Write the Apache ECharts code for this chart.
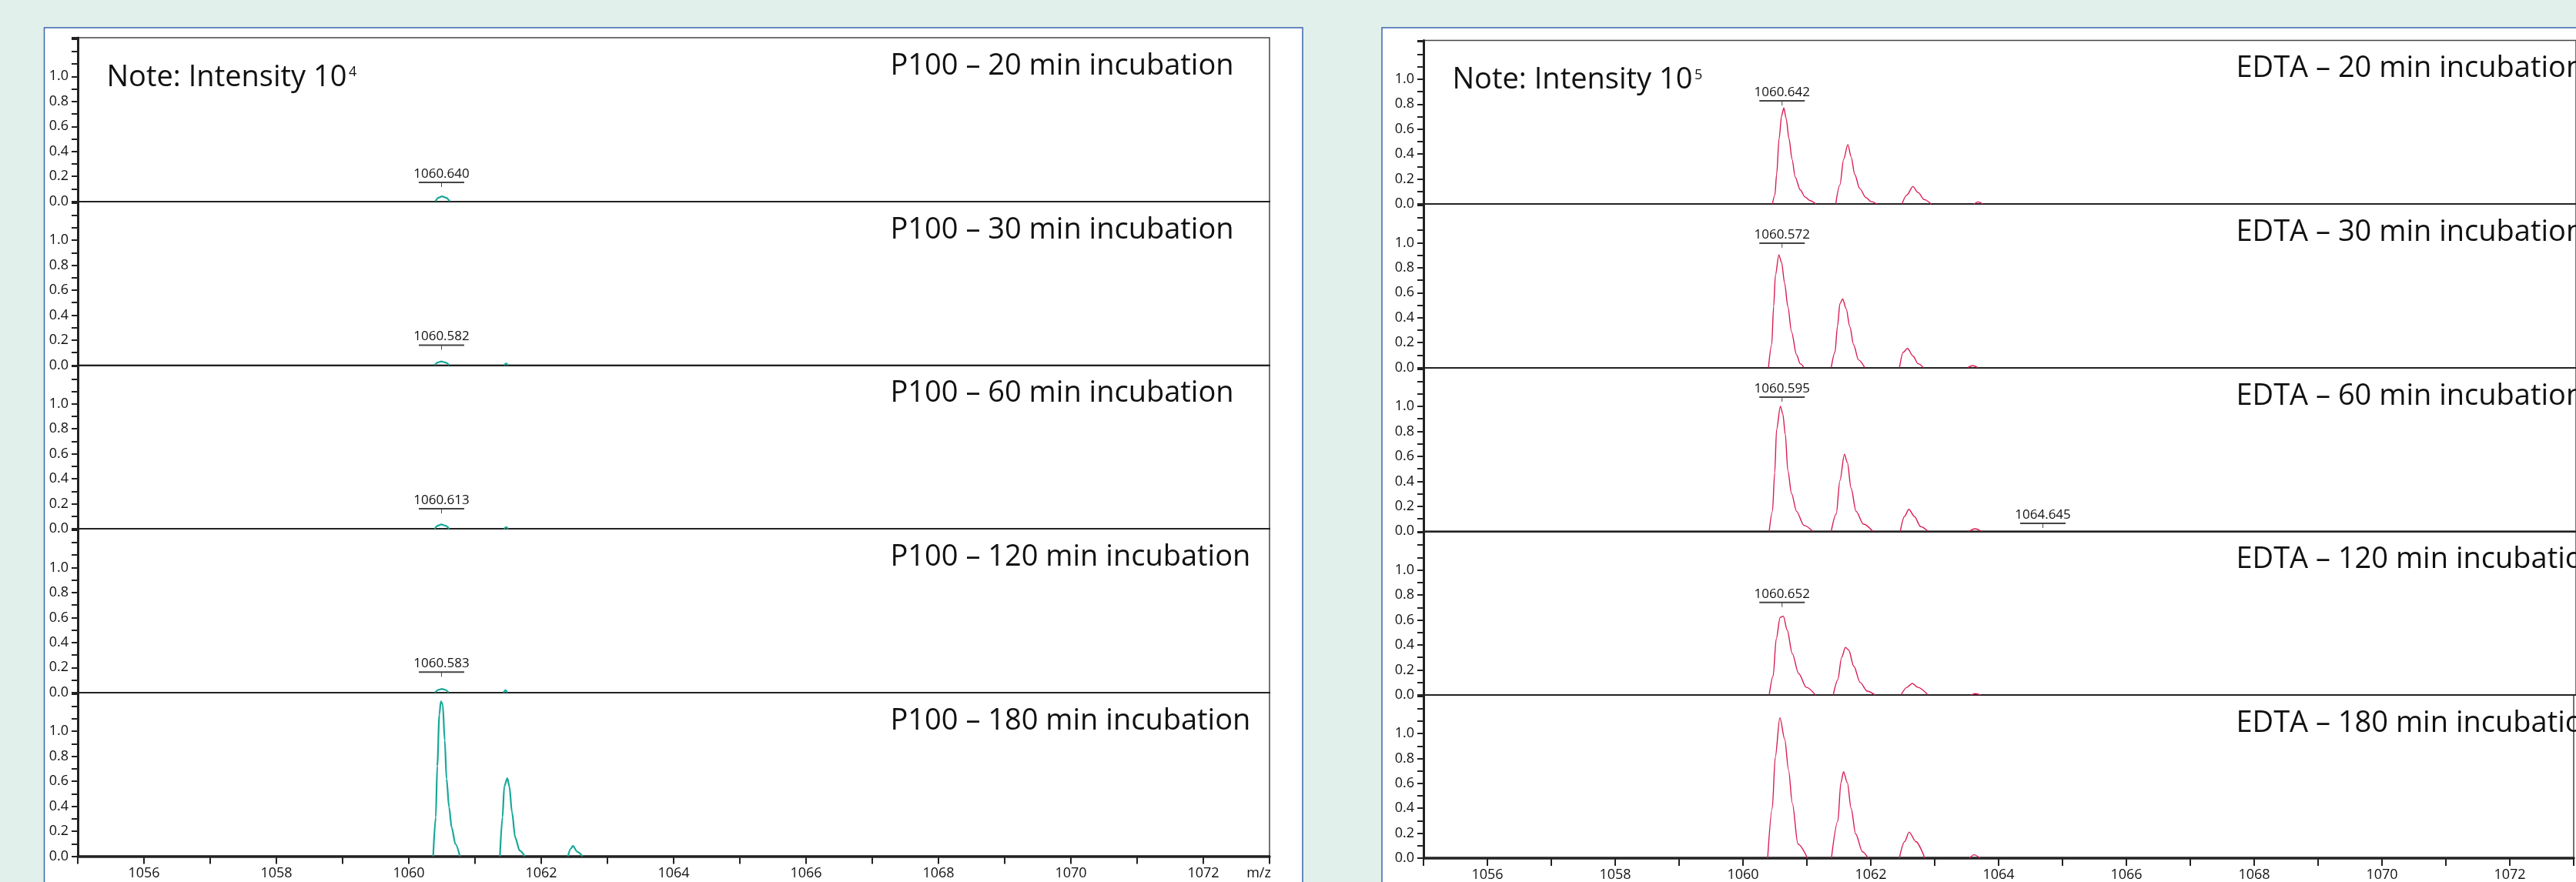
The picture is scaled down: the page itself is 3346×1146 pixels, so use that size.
<!DOCTYPE html>
<html>
<head>
<meta charset="utf-8">
<script src="https://cdn.jsdelivr.net/npm/echarts@6/dist/echarts.min.js"></script>
<style>
html,body{margin:0;padding:0;background:#e1f0eb;}
#c{width:3346px;height:1146px;}
</style>
</head>
<body>
<div id="c"></div>
<script>
// ---------------- DATA ----------------
const xTickLabels = ['1056','1058','1060','1062','1064','1066','1068','1070','1072'];
const yTickLabels = ['0.0','0.2','0.4','0.6','0.8','1.0'];
const leftTitles = ['P100 \u2013 20 min incubation','P100 \u2013 30 min incubation','P100 \u2013 60 min incubation','P100 \u2013 120 min incubation','P100 \u2013 180 min incubation'];
const rightTitles = ['EDTA \u2013 20 min incubation','EDTA \u2013 30 min incubation','EDTA \u2013 60 min incubation','EDTA \u2013 120 min incubation','EDTA \u2013 180 min incubation'];
const leftNote = ['Note: Intensity 10','4'];
const rightNote = ['Note: Intensity 10','5'];

// each spectrum = list of peaks, each peak = list of [m/z, relative intensity]
const p100_20 = [
  [[1060.40,0],[1060.45,0.03],[1060.50,0.04],[1060.56,0.03],[1060.62,0]]
];
const p100_30 = [
  [[1060.39,0],[1060.44,0.022],[1060.49,0.03],[1060.55,0.022],[1060.61,0]],
  [[1061.44,0],[1061.47,0.012],[1061.50,0]]
];
const p100_60 = [
  [[1060.39,0],[1060.44,0.026],[1060.49,0.035],[1060.55,0.026],[1060.61,0]],
  [[1061.44,0],[1061.47,0.014],[1061.50,0]]
];
const p100_120 = [
  [[1060.395,0],[1060.45,0.022],[1060.50,0.029],[1060.55,0.022],[1060.60,0]],
  [[1061.43,0],[1061.46,0.018],[1061.49,0]]
];
const p100_180 = [
  [[1060.368,0],[1060.407,0.312],[1060.430,0.722],[1060.461,1.132],[1060.484,1.239],[1060.512,1.215],[1060.543,0.927],[1060.570,0.62],[1060.608,0.394],[1060.647,0.23],[1060.705,0.097],[1060.771,0]],
  [[1061.376,0],[1061.415,0.312],[1061.442,0.558],[1061.488,0.624],[1061.519,0.558],[1061.558,0.353],[1061.608,0.148],[1061.674,0.045],[1061.752,0]],
  [[1062.403,0],[1062.45,0.062],[1062.477,0.082],[1062.547,0.035],[1062.624,0]]
];
const edta_20 = [
  [[1060.450,0],[1060.488,0.072],[1060.515,0.236],[1060.554,0.523],[1060.593,0.708],[1060.628,0.769],[1060.663,0.687],[1060.709,0.523],[1060.756,0.359],[1060.806,0.215],[1060.884,0.113],[1060.961,0.055],[1061.039,0.027],[1061.128,0]],
  [[1061.438,0],[1061.504,0.154],[1061.562,0.359],[1061.628,0.476],[1061.678,0.379],[1061.736,0.236],[1061.814,0.123],[1061.911,0.051],[1061.988,0.02],[1062.085,0]],
  [[1062.473,0],[1062.55,0.072],[1062.643,0.14],[1062.725,0.092],[1062.822,0.035],[1062.926,0]],
  [[1063.597,0],[1063.663,0.017],[1063.733,0]]
];
const edta_30 = [
  [[1060.388,0],[1060.438,0.185],[1060.469,0.492],[1060.496,0.738],[1060.550,0.903],[1060.593,0.841],[1060.640,0.677],[1060.690,0.492],[1060.748,0.287],[1060.826,0.103],[1060.884,0.031],[1060.942,0]],
  [[1061.368,0],[1061.426,0.123],[1061.465,0.328],[1061.504,0.513],[1061.547,0.55],[1061.601,0.472],[1061.659,0.328],[1061.717,0.185],[1061.794,0.062],[1061.891,0]],
  [[1062.434,0],[1062.492,0.123],[1062.558,0.154],[1062.647,0.092],[1062.725,0.031],[1062.810,0]],
  [[1063.50,0],[1063.578,0.017],[1063.655,0]]
];
const edta_60 = [
  [[1060.399,0],[1060.450,0.16],[1060.485,0.468],[1060.515,0.816],[1060.574,1.001],[1060.612,0.939],[1060.651,0.775],[1060.690,0.488],[1060.748,0.303],[1060.826,0.16],[1060.942,0.047],[1061.078,0]],
  [[1061.368,0],[1061.446,0.139],[1061.504,0.406],[1061.574,0.617],[1061.620,0.55],[1061.678,0.345],[1061.756,0.16],[1061.872,0.057],[1062.015,0]],
  [[1062.446,0],[1062.512,0.119],[1062.581,0.176],[1062.667,0.119],[1062.764,0.037],[1062.880,0]],
  [[1063.519,0],[1063.616,0.02],[1063.713,0]]
];
const edta_120 = [
  [[1060.40,0],[1060.46,0.15],[1060.51,0.45],[1060.57,0.62],[1060.62,0.63],[1060.68,0.52],[1060.76,0.33],[1060.86,0.17],[1060.98,0.06],[1061.12,0]],
  [[1061.40,0],[1061.47,0.12],[1061.53,0.30],[1061.59,0.38],[1061.64,0.36],[1061.72,0.23],[1061.82,0.10],[1061.93,0.03],[1062.05,0]],
  [[1062.46,0],[1062.55,0.06],[1062.635,0.092],[1062.72,0.06],[1062.88,0]],
  [[1063.55,0],[1063.62,0.01],[1063.70,0]]
];
const edta_180 = [
  [[1060.386,0],[1060.458,0.4],[1060.505,0.81],[1060.577,1.128],[1060.653,0.954],[1060.713,0.708],[1060.772,0.441],[1060.860,0.113],[1061.009,0]],
  [[1061.384,0],[1061.484,0.297],[1061.532,0.605],[1061.573,0.693],[1061.633,0.605],[1061.692,0.4],[1061.763,0.195],[1061.870,0.051],[1061.958,0]],
  [[1062.446,0],[1062.530,0.133],[1062.600,0.209],[1062.705,0.133],[1062.845,0]],
  [[1063.547,0],[1063.616,0.027],[1063.709,0]]
];
const leftSpectra = [p100_20, p100_30, p100_60, p100_120, p100_180];
const rightSpectra = [edta_20, edta_30, edta_60, edta_120, edta_180];

// peak annotations
const leftAnnotPanel = [0, 1, 2, 3];
const leftAnnotMz = [1060.494, 1060.494, 1060.494, 1060.494];
const leftAnnotY = [0.152, 0.160, 0.160, 0.163];
const leftAnnotText = ['1060.640', '1060.582', '1060.613', '1060.583'];
const rightAnnotPanel = [0, 1, 2, 2, 3];
const rightAnnotMz = [1060.60, 1060.60, 1060.60, 1064.674, 1060.60];
const rightAnnotY = [0.826, 0.997, 1.074, 0.063, 0.74];
const rightAnnotText = ['1060.642', '1060.572', '1060.595', '1064.645', '1060.652'];

// ---------------- LAYOUT / STYLE ----------------
const FONT = 'Open Sans';
const PLOT_W = 1548;
const sides = [
  {x: 101, top: 49, h: 212.7, color: '#17a898', lw: 2.2, spectra: leftSpectra, titles: leftTitles, note: leftNote,
   ap: leftAnnotPanel, am: leftAnnotMz, ay: leftAnnotY, at: leftAnnotText, card: {x: 57.5, w: 1634.5}},
  {x: 1849, top: 52.5, h: 212.6, color: '#d81c52', lw: 1.4, spectra: rightSpectra, titles: rightTitles, note: rightNote,
   ap: rightAnnotPanel, am: rightAnnotMz, ay: rightAnnotY, at: rightAnnotText, card: {x: 1795, w: 1700}}
];

const measureCtx = document.createElement('canvas').getContext('2d');
function textWidth(str, size) {
  measureCtx.font = size + 'px "' + FONT + '"';
  return measureCtx.measureText(str).width;
}

function buildLine(peaks) {
  const out = [];
  peaks.forEach((pk, i) => {
    if (i > 0) out.push([pk[0][0] - 0.05, '-']);
    pk.forEach(p => out.push(p));
  });
  return out;
}

const grid = [], xAxis = [], yAxis = [], series = [], graphic = [];

sides.forEach((s, si) => {
  graphic.push({type: 'rect', z: -100, shape: {x: s.card.x, y: 36, width: s.card.w, height: 1300},
    style: {fill: '#ffffff', stroke: '#3b64ad', lineWidth: 1.5}});
  for (let k = 0; k < 5; k++) {
    const idx = si * 5 + k;
    const bottom = (k === 4);
    const top = s.top + k * s.h;
    grid.push({left: s.x, top: top, width: PLOT_W, height: s.h, show: true,
      borderColor: '#444', borderWidth: 1.5, backgroundColor: 'transparent'});
    xAxis.push({type: 'value', gridIndex: idx, min: 1055, max: 1073, interval: 1,
      axisLine: {show: true, onZero: false, lineStyle: {color: '#222', width: bottom ? 3.5 : 2.2}},
      axisTick: {show: bottom, length: 10, lineStyle: {color: '#222', width: 2}},
      axisLabel: {show: bottom, margin: 13, fontSize: 18, lineHeight: 18, fontFamily: FONT, color: '#111',
        formatter: v => xTickLabels.includes(String(v)) ? String(v) : ''},
      splitLine: {show: false}});
    yAxis.push({type: 'value', gridIndex: idx, min: 0, max: 1.31, interval: 0.1,
      axisLine: {show: true, lineStyle: {color: '#222', width: 3}},
      axisTick: {show: true, length: 8, lineStyle: {color: '#222', width: 2}},
      axisLabel: {margin: 12, fontSize: 18, fontFamily: FONT, color: '#111',
        formatter: v => { const t = v.toFixed(1); return (yTickLabels.includes(t) && Math.abs(v - parseFloat(t)) < 1e-9) ? t : ''; }},
      splitLine: {show: false}});
    series.push({type: 'line', xAxisIndex: idx, yAxisIndex: idx, data: buildLine(s.spectra[k]),
      symbol: 'none', showSymbol: false, smooth: 0.3, smoothMonotone: 'x', connectNulls: false,
      lineStyle: {color: s.color, width: s.lw}, animation: false, clip: true, silent: true});
    const aData = [], aText = [];
    s.ap.forEach((p, j) => { if (p === k) { aData.push([s.am[j], s.ay[j]]); aText.push(s.at[j]); } });
    if (aData.length) {
      series.push({type: 'custom', xAxisIndex: idx, yAxisIndex: idx, data: aData, animation: false, silent: true,
        renderItem: (params, api) => {
          const p = api.coord([api.value(0), api.value(1)]);
          return {type: 'group', children: [
            {type: 'line', shape: {x1: p[0] - 29.5, y1: p[1], x2: p[0] + 29.5, y2: p[1]}, style: {stroke: '#444', lineWidth: 2}},
            {type: 'line', shape: {x1: p[0], y1: p[1], x2: p[0], y2: p[1] + 6}, style: {stroke: '#444', lineWidth: 1}},
            {type: 'text', x: p[0], y: p[1] - 2.3, style: {text: aText[params.dataIndex], fontSize: 17, lineHeight: 17,
              fontFamily: FONT, fill: '#111', align: 'center', verticalAlign: 'bottom'}}
          ]};
        }});
    }
    graphic.push({type: 'text', z: 100, x: s.x + 1055.5, y: top + 37,
      style: {text: s.titles[k], fontSize: 38, fontFamily: FONT, fill: '#111', align: 'left', verticalAlign: 'middle'}});
  }
  // note with superscript exponent
  const nx = s.x + 37.5, ny = s.top + 51.7;
  graphic.push({type: 'text', z: 100, x: nx, y: ny,
    style: {text: s.note[0], fontSize: 38, fontFamily: FONT, fill: '#111', align: 'left', verticalAlign: 'middle'}});
  graphic.push({type: 'text', z: 100, x: nx + textWidth(s.note[0], 38) + 2.5, y: ny - 6.6,
    style: {text: s.note[1], fontSize: 18, fontFamily: FONT, fill: '#111', align: 'left', verticalAlign: 'middle'}});
  graphic.push({type: 'text', z: 100, x: s.x + PLOT_W - 14, y: s.top + 5 * s.h + 22.4,
    style: {text: 'm/z', fontSize: 18, fontFamily: FONT, fill: '#111', align: 'center', verticalAlign: 'middle'}});
});

const chart = echarts.init(document.getElementById('c'), null, {renderer: 'canvas'});
chart.setOption({
  backgroundColor: '#e1f0eb',
  animation: false,
  grid, xAxis, yAxis, series, graphic
});
</script>
</body>
</html>
